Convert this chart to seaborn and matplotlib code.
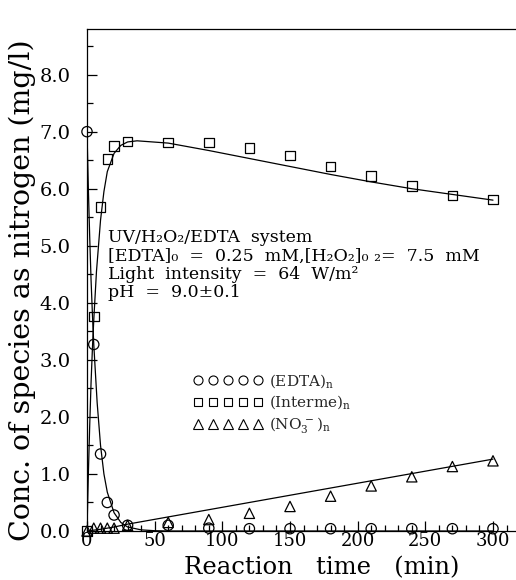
import numpy as np
import pandas as pd
import matplotlib
matplotlib.use("Agg")
import matplotlib.pyplot as plt
from matplotlib.lines import Line2D
from matplotlib.ticker import MultipleLocator, FormatStrFormatter
import seaborn as sns

# ---------------- data ----------------
t_obs = [0, 5, 10, 15, 20, 30, 60, 90, 120, 150, 180, 210, 240, 270, 300]
edta_obs = [7.0, 3.27, 1.35, 0.5, 0.28, 0.1, 0.1, 0.05, 0.04, 0.04, 0.04, 0.04, 0.04, 0.04, 0.04]
interme_obs = [0.0, 3.76, 5.68, 6.52, 6.75, 6.83, 6.81, 6.81, 6.71, 6.58, 6.39, 6.22, 6.05, 5.88, 5.81]
no3_obs = [0.0, 0.05, 0.05, 0.05, 0.05, 0.1, 0.15, 0.2, 0.31, 0.43, 0.61, 0.79, 0.95, 1.13, 1.23]

t_fit_edta = [0, 1, 2, 3, 4, 5, 7.5, 10, 12.5, 15, 20, 25, 30, 40, 50, 60, 300]
edta_fit = [7.0, 6.0, 5.15, 4.4, 3.8, 3.27, 2.25, 1.5, 1.0, 0.68, 0.32, 0.15, 0.07, 0.02, 0.005, 0.0, 0.0]

t_fit_int = [0, 1, 2, 3, 4, 5, 7, 10, 12.5, 15, 20, 25, 30, 37, 60, 90, 120, 150, 180, 210, 240, 270, 300]
interme_fit = [0.0, 1.0, 1.85, 2.6, 3.2, 3.7, 4.55, 5.45, 5.95, 6.3, 6.62, 6.76, 6.82, 6.84, 6.80,
               6.67, 6.53, 6.39, 6.25, 6.12, 6.0, 5.9, 5.8]

t_fit_no3 = [0, 10, 20, 30, 300]
no3_fit = [0.0, 0.03, 0.07, 0.12, 1.26]

y_ticks = [0, 1, 2, 3, 4, 5, 6, 7, 8]
x_ticks = [0, 50, 100, 150, 200, 250, 300]

legend_labels = [r"(EDTA)$_{\rm n}$", r"(Interme)$_{\rm n}$", r"(NO$_3^{\,-}$)$_{\rm n}$"]
info_lines = [
    "UV/H\u2082O\u2082/EDTA  system",
    "[EDTA]\u2080  =  0.25  mM,[H\u2082O\u2082]\u2080 \u2082=  7.5  mM",
    "Light  intensity  =  64  W/m\u00b2",
    "pH  =  9.0\u00b10.1",
]

# ---------------- style ----------------
sns.set_theme(style="ticks")
plt.rcParams["font.family"] = ["DejaVu Serif", "DejaVu Sans"]
plt.rcParams["mathtext.fontset"] = "dejavuserif"

fig = plt.figure(figsize=(5.16, 5.80), dpi=100)
ax = fig.add_axes([87 / 516, 49 / 580, 429 / 516, 502 / 580])

obs = pd.DataFrame({"t": t_obs, "edta": edta_obs, "int": interme_obs, "no3": no3_obs})

lw = 0.9
sns.lineplot(x=t_fit_edta, y=edta_fit, ax=ax, color="black", lw=lw)
sns.lineplot(x=t_fit_int, y=interme_fit, ax=ax, color="black", lw=lw)
sns.lineplot(x=t_fit_no3, y=no3_fit, ax=ax, color="black", lw=lw)

ms = 55
sns.scatterplot(data=obs, x="t", y="edta", ax=ax, marker="o", s=ms,
                facecolor="none", edgecolor="black", linewidth=0.9)
sns.scatterplot(data=obs, x="t", y="int", ax=ax, marker="s", s=ms * 0.85,
                facecolor="none", edgecolor="black", linewidth=0.9)
sns.scatterplot(data=obs, x="t", y="no3", ax=ax, marker="^", s=ms,
                facecolor="none", edgecolor="black", linewidth=0.9)
for c in ax.collections:
    c.set_clip_on(False)

ax.set_xlim(0, 317)
ax.set_ylim(0, 8.8)

ax.set_yticks(y_ticks)
ax.set_xticks(x_ticks)
ax.yaxis.set_minor_locator(MultipleLocator(0.5))
ax.yaxis.set_major_formatter(FormatStrFormatter("%.1f"))
ax.xaxis.set_minor_locator(MultipleLocator(10))

ax.tick_params(axis="both", which="both", direction="in", color="black", width=0.9)
ax.tick_params(axis="both", which="major", length=7)
ax.tick_params(axis="both", which="minor", length=4.5)
ax.tick_params(axis="y", which="major", labelsize=14, pad=12)
ax.tick_params(axis="x", which="major", labelsize=13, pad=1)
for lab in ax.get_xticklabels() + ax.get_yticklabels():
    lab.set_color("black")

for side in ["left", "bottom", "top"]:
    ax.spines[side].set_color("black")
    ax.spines[side].set_linewidth(0.9)
ax.spines["right"].set_visible(False)

ax.set_xlabel("Reaction   time   (min)", fontsize=17.5, color="black")
ax.xaxis.label.set_va("baseline")
ax.xaxis.set_label_coords(0.548, -0.0857)
ax.set_ylabel("Conc. of species as nitrogen (mg/l)", fontsize=20.5, color="black")
ax.yaxis.set_label_coords(-0.12, 0.48)

# info text block (one multi-line text; baseline of last line)
ax.text(0.049, 0.466, "\n".join(info_lines), transform=ax.transAxes, fontsize=12.5,
        color="black", ha="left", va="baseline", linespacing=1.1)

# legend
handles = [
    Line2D([0], [0], marker="o", ls="none", mfc="none", mec="black", ms=6.5, mew=0.8),
    Line2D([0], [0], marker="s", ls="none", mfc="none", mec="black", ms=5.8, mew=0.8),
    Line2D([0], [0], marker="^", ls="none", mfc="none", mec="black", ms=6.5, mew=0.8),
]
ax.legend(handles, legend_labels, numpoints=5, handlelength=4.5, handletextpad=0.45,
          frameon=False, fontsize=11, loc="upper left", bbox_to_anchor=(0.249, 0.317),
          borderpad=0, borderaxespad=0, labelspacing=0.25)

fig.savefig("out.png", dpi=100)
